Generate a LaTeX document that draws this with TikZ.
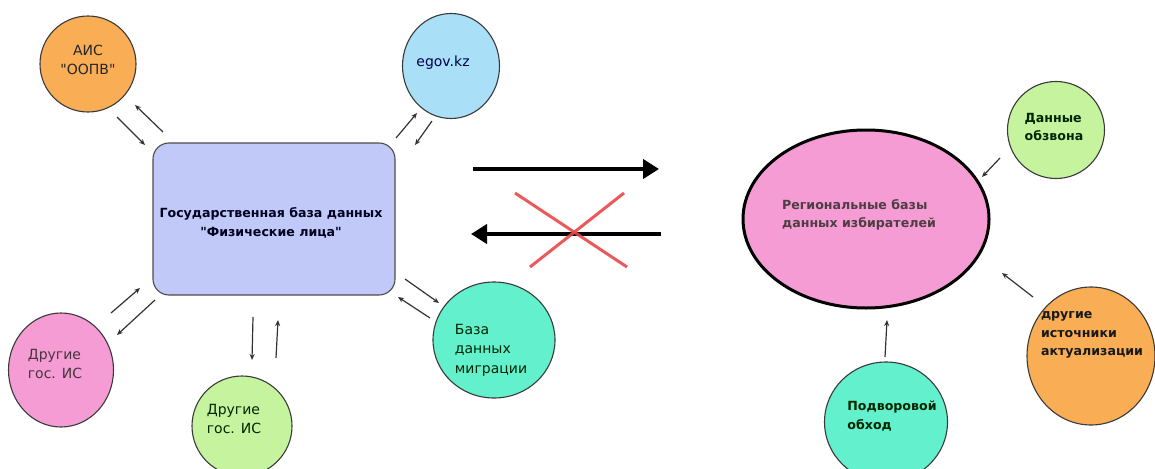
\documentclass[tikz,border=0pt]{standalone}
\usepackage{fontspec}
\setmainfont{DejaVu Sans}
\usetikzlibrary{arrows.meta,shapes.geometric}

\definecolor{cOrange}{HTML}{F9AD55}
\definecolor{cSky}{HTML}{A9DFF7}
\definecolor{cLav}{HTML}{C1C9F9}
\definecolor{cPink}{HTML}{F59CD4}
\definecolor{cLime}{HTML}{C6F39E}
\definecolor{cTeal}{HTML}{62F0CD}
\definecolor{cRed}{HTML}{E84848}
\definecolor{cEdge}{HTML}{3A3A3A}

\tikzset{
  blob/.style={draw=cEdge, line width=1.1pt, inner sep=0pt},
  roundblob/.style={blob, circle, minimum size=#1},
  ovalblob/.style={blob, ellipse},
  reg/.style={font=\fontsize{14}{19.5}\selectfont, align=left, inner sep=0pt},
  strong/.style={font=\fontsize{12.6}{18.5}\selectfont\bfseries, align=left, inner sep=0pt},
  flow/.style={draw=black!80, line width=1.2pt, -{Stealth[length=6pt,width=5pt]}},
  bigflow/.style={draw=black, line width=4pt, -{Triangle[length=16pt,width=19pt]}},
  cross/.style={draw=cRed, line width=3pt, opacity=0.9},
}

\begin{document}
\begin{tikzpicture}[x=1pt,y=-1pt]
\useasboundingbox (0,0) rectangle (1155,468);
\clip (0,0) rectangle (1155,468);

% ---- central register and its neighbours ----
\node[blob, fill=cLav, draw=black!70, rounded corners=16pt,
      minimum width=242pt, minimum height=152pt] (box) at (274,219) {};
\node[strong, align=center, text=black!88!blue] (boxt) at (271,223)
  {Государственная база данных\\\textquotedbl Физические лица\textquotedbl};

\node[roundblob=96pt, fill=cOrange] (ais) at (88,64) {};
\node[reg, align=center, text=black!85] (aist) at (88,60)
  {АИС\\\textquotedbl ООПВ\textquotedbl};

\node[ovalblob, fill=cSky, minimum width=97pt, minimum height=105pt] (egov) at (451,66) {};
\node[reg, text=black!70!blue] (egovt) at (443,63) {egov.kz};

\node[ovalblob, fill=cPink, minimum width=105pt, minimum height=114pt] (gis1) at (61,370) {};
\node[reg, text=black!85!magenta] (gis1t) at (55,364) {Другие\\гос. ИС};

\node[roundblob=100pt, fill=cLime] (gis2) at (242,426) {};
\node[reg, text=black!85!green] (gis2t) at (234,419) {Другие\\гос. ИС};

\node[ovalblob, fill=cTeal, minimum width=122pt, minimum height=116pt] (migr) at (494,340) {};
\node[reg, text=black!85!green] (migrt) at (491,350) {База\\данных\\миграции};

% ---- regional voter databases and their sources ----
\node[ovalblob, fill=cPink, draw=black, line width=3pt,
      minimum width=246pt, minimum height=178pt] (region) at (866,219) {};
\node[strong, text=black!80!magenta] (regiont) at (859,215) {Региональные базы\\данных избирателей};

\node[roundblob=97pt, fill=cLime] (call) at (1056,130) {};
\node[strong, text=black!85!green] (callt) at (1054,127) {Данные\\обзвона};

\node[ovalblob, fill=cOrange, minimum width=128pt, minimum height=138pt] (src) at (1091,356) {};
\node[strong, text=black!90] (srct) at (1092,335) {другие\\источники\\актуализации};

\node[ovalblob, fill=cTeal, minimum width=123pt, minimum height=120pt] (door) at (886,422) {};
\node[strong, text=black!85!green] (doort) at (892,416) {Подворовой\\обход};

% ---- end points of the short exchange arrows ----
\coordinate (a1s) at (117,117); \coordinate (a1e) at (145,145);
\coordinate (a2s) at (163,132); \coordinate (a2e) at (135,105);
\coordinate (a3s) at (396,138); \coordinate (a3e) at (417,113);
\coordinate (a4s) at (432,121); \coordinate (a4e) at (415,145);
\coordinate (a5s) at (111,313); \coordinate (a5e) at (140,288);
\coordinate (a6s) at (155,300); \coordinate (a6e) at (117,335);
\coordinate (a7s) at (253,317); \coordinate (a7e) at (252,360);
\coordinate (a8s) at (276,358); \coordinate (a8e) at (278,320);
\coordinate (a9s) at (405,279); \coordinate (a9e) at (439,303);
\coordinate (a10s) at (430,318); \coordinate (a10e) at (398,297);
\coordinate (b1s) at (1000,158); \coordinate (b1e) at (982,177);
\coordinate (b2s) at (1033,297); \coordinate (b2e) at (1002,273);
\coordinate (b3s) at (885,357); \coordinate (b3e) at (887,320);

\foreach \s/\e in {a1s/a1e,a2s/a2e,a3s/a3e,a4s/a4e,a5s/a5e,a6s/a6e,a7s/a7e,
                   a8s/a8e,a9s/a9e,a10s/a10e,b1s/b1e,b2s/b2e,b3s/b3e}
  \draw[flow] (\s) -- (\e);

% ---- transfer between the two systems ----
\coordinate (fwds) at (473,169); \coordinate (fwde) at (659,169);
\coordinate (bcks) at (661,234); \coordinate (bcke) at (471,234);
\draw[bigflow] (fwds) -- (fwde);
\draw[bigflow] (bcks) -- (bcke);

\coordinate (x1s) at (515,193); \coordinate (x1e) at (627,267);
\coordinate (x2s) at (624,193); \coordinate (x2e) at (530,267);
\draw[cross] (x1s) -- (x1e);
\draw[cross] (x2s) -- (x2e);
\end{tikzpicture}
\end{document}
